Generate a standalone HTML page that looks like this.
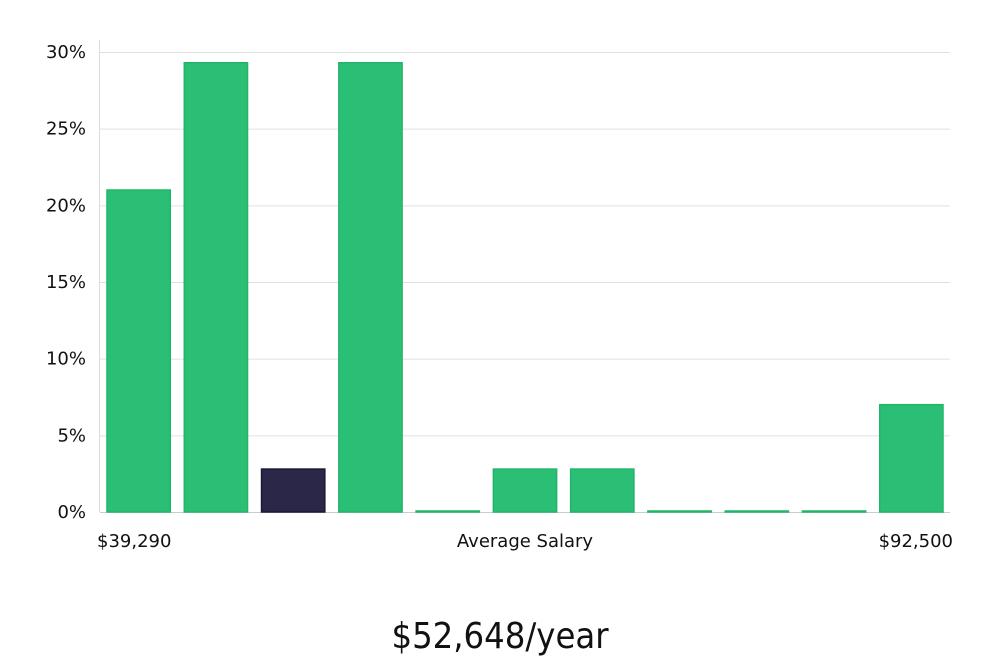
<!DOCTYPE html>
<html><head><meta charset="utf-8"><style>
body{margin:0;background:#fff;width:1000px;height:660px;overflow:hidden}
svg{display:block}
text{font-family:"DejaVu Sans","Liberation Sans",sans-serif;fill:#111}
</style></head><body>
<svg id="chart" width="1000" height="660" viewBox="0 0 1000 660">
<g id="grid"></g>
<g id="yaxis"></g>
<g id="bars"></g>
<line x1="99.5" y1="40" x2="99.5" y2="512" stroke="#ddd"/>
<text x="97" y="547" font-size="18">$39,290</text>
<text x="525" y="547" font-size="18" text-anchor="middle">Average Salary</text>
<text x="953" y="547" font-size="18" text-anchor="end">$92,500</text>
<text x="500" y="648" font-size="36" text-anchor="middle" style="font-family:'DejaVu Sans Condensed','DejaVu Sans',sans-serif;font-weight:300">$52,648/year</text>
</svg>
<script>
const values=[21.0,29.3,2.8,29.3,0,2.8,2.8,0,0,0,7.0];
const highlightIndex=[2];
const yTicks=[0,5,10,15,20,25,30];
const yTickLabels=["0%","5%","10%","15%","20%","25%","30%"];
const ns="http://www.w3.org/2000/svg";
const x0=100,x1=950,yBase=512,yTop=52,yMax=30;
const y=v=>yBase-(v/yMax)*(yBase-yTop);
const slot=(x1-x0)/values.length;
const grid=document.getElementById('grid'),ya=document.getElementById('yaxis'),bars=document.getElementById('bars');
yTicks.forEach((t,i)=>{
 const l=document.createElementNS(ns,'line');
 
 
 l.setAttribute('x1',x0);l.setAttribute('x2',x1);l.setAttribute('y1',y(t)+0.5);l.setAttribute('y2',y(t)+0.5);
 l.setAttribute('stroke',t===0?'#ccc':'#e0e0e0');grid.appendChild(l);
 const tx=document.createElementNS(ns,'text');
 
 
 tx.setAttribute('x',86);tx.setAttribute('y',y(t)+6);tx.setAttribute('font-size','18');tx.setAttribute('text-anchor','end');
 tx.textContent=yTickLabels[i];ya.appendChild(tx);
});
values.forEach((v,i)=>{
 const r=document.createElementNS(ns,'rect');
 
 
 const hl=highlightIndex.includes(i);
 const h=Math.max(yBase-y(v),1);
 r.setAttribute('x',x0+i*slot+7);r.setAttribute('width',slot-14);
 r.setAttribute('y',yBase-h);r.setAttribute('height',h);
 r.setAttribute('fill',hl?'#2b2748':'#2bbf76');
 r.setAttribute('stroke',hl?'#1a1733':'#22b56a');r.setAttribute('stroke-width','1.5');
 bars.appendChild(r);
});
</script>
</body></html>
